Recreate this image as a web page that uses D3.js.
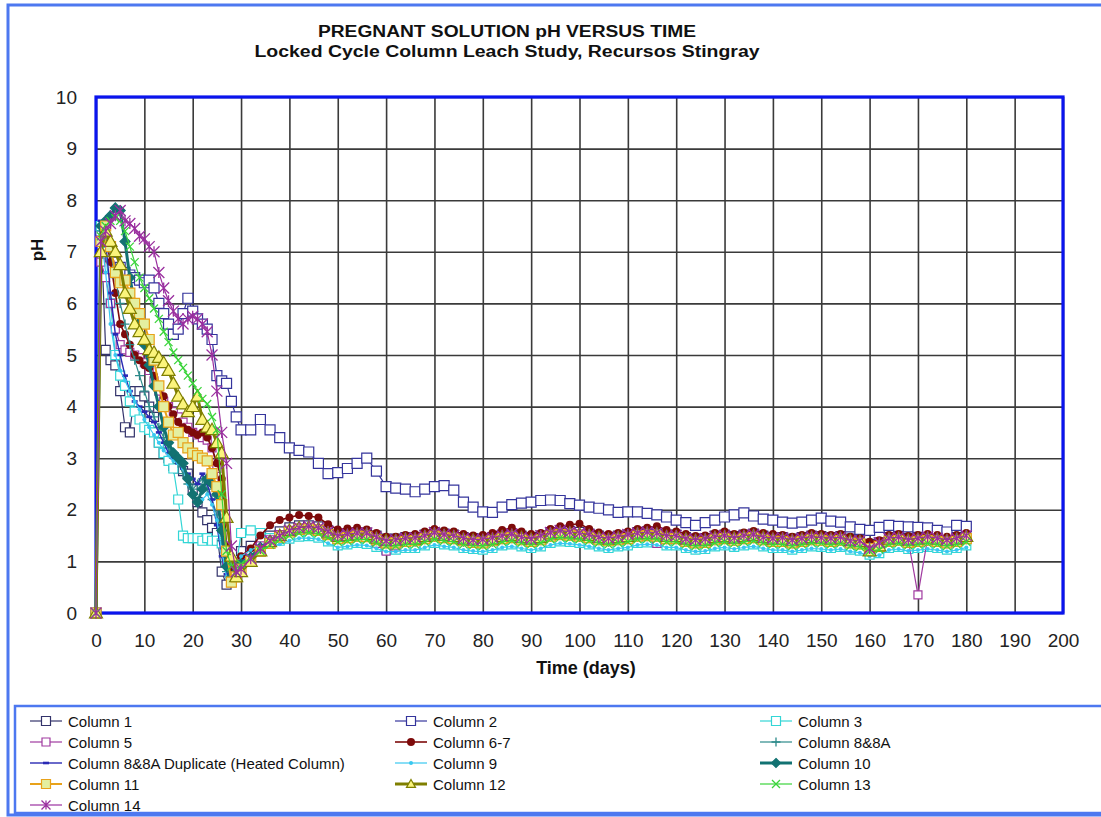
<!DOCTYPE html>
<html>
<head>
<meta charset="utf-8">
<script src="https://cdn.jsdelivr.net/npm/d3@7"></script>
<style>
  body { margin: 0; background: #fff; }
  svg { display: block; font-family: "Liberation Sans", Arial, sans-serif; }
</style>
</head>
<body>
<svg id="chart" width="1101" height="817"></svg>
<script>
// Sampling days (daily to day 30, then every second day)
const days = [
  0,1,2,3,4,5,6,7,8,9,10,11,12,13,14,15,16,17,18,19,20,21,22,23,24,25,26,27,28,29,30,
  32,34,36,38,40,42,44,46,48,50,52,54,56,58,60,
  62,64,66,68,70,72,74,76,78,80,82,84,86,88,90,
  92,94,96,98,100,102,104,106,108,110,112,114,116,118,120,
  122,124,126,128,130,132,134,136,138,140,142,144,146,148,150,
  152,154,156,158,160,162,164,166,168,170,172,174,176,178,180
];

// Pregnant solution pH per column
const column1 = [
  0,7.5,5.1,4.9,4.8,4.3,3.6,3.5,4.3,4.3, 4.2,4.0,3.8,3.3,3.1,3.0,2.85,2.8,2.75,2.7, 2.4,2.15,1.95,1.8,1.65,1.55,0.8,0.55,0.6,0.8, 1.2,
  1.3,1.4,1.5,1.58,1.66,1.7,1.7,1.68,1.6,1.52,1.54,1.57,1.56,1.5,1.44,
  1.44,1.47,1.47,1.52,1.57,1.54,1.52,1.47,1.45,1.44,1.47,1.52,1.54,1.5,1.47,
  1.5,1.57,1.6,1.59,1.57,1.54,1.5,1.47,1.5,1.52,1.57,1.58,1.57,1.52,1.52,
  1.47,1.44,1.45,1.5,1.52,1.49,1.52,1.54,1.5,1.47,1.47,1.44,1.47,1.5,1.49,
  1.47,1.49,1.44,1.42,1.34,1.37,1.47,1.49,1.45,1.47,1.49,1.47,1.44,1.47,1.52
];
const column2 = [
  0,7.4,7.1,6.9,6.8,6.7,6.6,6.55,6.5,6.45, 6.4,6.45,6.3,6.0,5.8,5.6,5.4,5.5,5.8,6.1, 5.85,5.7,5.6,5.5,5.3,4.6,4.5,4.45,4.1,3.8, 3.55,
  3.55,3.75,3.55,3.4,3.2,3.15,3.12,2.9,2.7,2.72,2.8,2.9,3.0,2.75,2.45,
  2.42,2.4,2.35,2.4,2.45,2.47,2.38,2.15,2.05,1.96,1.95,2.05,2.1,2.13,2.15,
  2.18,2.19,2.18,2.12,2.09,2.05,2.03,2.0,1.95,1.96,1.96,1.93,1.9,1.86,1.8,
  1.75,1.7,1.75,1.8,1.86,1.9,1.94,1.88,1.82,1.8,1.76,1.74,1.76,1.8,1.84,
  1.78,1.76,1.67,1.62,1.6,1.66,1.7,1.68,1.67,1.66,1.65,1.6,1.57,1.7,1.68
];
const column3 = [
  0,7.5,7.0,6.0,5.0,4.6,4.4,4.1,3.9,3.75, 3.6,3.55,3.5,3.3,3.1,2.95,2.8,2.2,1.5,1.45, 1.45,1.45,1.4,1.45,1.4,1.4,1.35,1.0,0.75,0.9, 1.55,
  1.6,1.55,1.45,1.4,1.44,1.48,1.49,1.46,1.39,1.31,1.33,1.36,1.34,1.28,1.23,
  1.23,1.26,1.26,1.31,1.36,1.33,1.31,1.26,1.24,1.23,1.26,1.31,1.33,1.29,1.26,
  1.29,1.36,1.39,1.38,1.36,1.33,1.29,1.26,1.29,1.31,1.36,1.37,1.36,1.31,1.31,
  1.26,1.23,1.24,1.29,1.31,1.28,1.31,1.33,1.29,1.26,1.26,1.23,1.26,1.29,1.28,
  1.26,1.28,1.23,1.21,1.13,1.16,1.26,1.28,1.24,1.26,1.28,1.26,1.23,1.26,1.31
];
const column5 = [
  0,6.8,6.5,6.0,5.5,5.2,5.1,5.05,5.0,4.95, 4.85,4.7,4.5,4.3,4.1,4.0,3.9,3.8,3.7,3.6, 3.5,3.45,3.4,3.35,3.2,2.8,1.9,1.0,0.75,0.85, 1.0,
  1.15,1.3,1.42,1.52,1.6,1.65,1.65,1.62,1.55,1.47,1.5,1.52,1.5,1.35,1.2,
  1.3,1.4,1.42,1.47,1.52,1.5,1.48,1.42,1.4,1.4,1.43,1.48,1.5,1.45,1.43,
  1.46,1.53,1.56,1.55,1.53,1.5,1.46,1.43,1.46,1.48,1.52,1.53,1.35,1.48,1.48,
  1.43,1.4,1.41,1.46,1.48,1.45,1.48,1.5,1.46,1.43,1.43,1.4,1.43,1.46,1.45,
  1.43,1.45,1.4,1.38,1.3,1.33,1.43,1.45,1.41,0.35,1.45,1.43,1.4,1.43,1.48
];
const column6to7 = [
  0,7.0,7.3,6.8,6.2,5.6,5.4,5.2,5.0,4.9, 4.8,4.75,4.6,4.4,4.2,4.0,3.85,3.7,3.6,3.55, 3.5,3.45,3.5,3.4,3.2,2.9,2.6,1.3,0.8,0.9, 1.1,
  1.25,1.5,1.7,1.8,1.85,1.9,1.88,1.85,1.72,1.62,1.64,1.65,1.62,1.55,1.48,
  1.48,1.51,1.53,1.58,1.63,1.6,1.58,1.53,1.5,1.51,1.55,1.61,1.65,1.58,1.53,
  1.55,1.63,1.68,1.71,1.73,1.63,1.56,1.53,1.55,1.58,1.63,1.65,1.68,1.61,1.58,
  1.53,1.49,1.5,1.55,1.58,1.53,1.56,1.59,1.55,1.53,1.51,1.48,1.51,1.55,1.53,
  1.51,1.53,1.48,1.45,1.38,1.41,1.51,1.53,1.49,1.51,1.53,1.51,1.48,1.51,1.55
];
const column8 = [
  0,7.4,7.3,7.0,6.5,6.0,5.6,5.2,4.9,4.6, 4.3,4.0,3.8,3.6,3.4,3.2,3.0,2.9,2.7,2.5, 2.4,2.5,2.6,2.4,2.2,1.9,1.4,0.8,0.6,0.75, 1.0,
  1.12,1.27,1.38,1.47,1.56,1.6,1.61,1.59,1.5,1.42,1.44,1.47,1.47,1.4,1.34,
  1.34,1.37,1.37,1.42,1.47,1.44,1.42,1.37,1.35,1.34,1.37,1.42,1.44,1.4,1.37,
  1.4,1.47,1.5,1.49,1.47,1.44,1.4,1.37,1.4,1.42,1.47,1.48,1.47,1.42,1.42,
  1.37,1.34,1.35,1.4,1.42,1.39,1.42,1.44,1.4,1.37,1.37,1.34,1.37,1.4,1.39,
  1.37,1.39,1.34,1.32,1.24,1.27,1.37,1.39,1.35,1.37,1.39,1.37,1.34,1.37,1.42
];
const column8Duplicate = [
  0,7.6,7.2,6.2,5.4,5.0,4.6,4.3,4.1,4.0, 3.9,3.8,3.7,3.5,3.3,3.1,3.0,2.9,2.8,2.7, 2.6,2.5,2.7,2.5,2.2,1.7,1.1,0.75,0.6,0.75, 1.0,
  1.1,1.25,1.36,1.45,1.54,1.58,1.6,1.58,1.48,1.4,1.42,1.45,1.44,1.37,1.3,
  1.32,1.35,1.35,1.4,1.45,1.42,1.4,1.35,1.33,1.32,1.35,1.4,1.42,1.38,1.35,
  1.38,1.45,1.48,1.47,1.45,1.42,1.38,1.35,1.38,1.4,1.45,1.46,1.45,1.4,1.4,
  1.35,1.32,1.33,1.38,1.4,1.37,1.4,1.42,1.38,1.35,1.35,1.32,1.35,1.38,1.37,
  1.35,1.37,1.32,1.3,1.22,1.25,1.35,1.37,1.33,1.35,1.37,1.35,1.32,1.35,1.4
];
const column9 = [
  0,7.3,6.6,5.6,5.0,4.7,4.5,4.3,4.1,3.95, 3.75,3.6,3.45,3.3,3.15,3.05,2.95,2.9,2.8,2.5, 2.3,2.1,2.2,2.3,2.1,1.8,1.2,0.7,0.6,0.8, 1.1,
  1.22,1.3,1.3,1.33,1.4,1.45,1.45,1.43,1.35,1.27,1.29,1.32,1.31,1.25,1.19,
  1.19,1.22,1.22,1.27,1.32,1.29,1.27,1.22,1.2,1.19,1.22,1.27,1.29,1.25,1.22,
  1.25,1.32,1.35,1.34,1.32,1.29,1.25,1.22,1.25,1.27,1.32,1.33,1.32,1.27,1.27,
  1.22,1.19,1.2,1.25,1.27,1.24,1.27,1.29,1.25,1.22,1.22,1.19,1.22,1.25,1.24,
  1.22,1.24,1.19,1.17,1.1,1.12,1.22,1.24,1.2,1.22,1.24,1.22,1.19,1.22,1.27
];
const column10 = [
  0,7.5,7.6,7.7,7.85,7.8,7.2,6.5,6.0,5.6, 5.2,4.8,4.4,4.0,3.6,3.3,3.1,3.0,2.9,2.6, 2.3,2.15,2.4,2.6,2.5,2.3,1.6,0.9,0.7,0.8, 0.95,
  1.08,1.27,1.4,1.5,1.6,1.64,1.64,1.62,1.53,1.45,1.47,1.5,1.5,1.43,1.37,
  1.37,1.4,1.41,1.45,1.5,1.47,1.45,1.41,1.38,1.37,1.41,1.45,1.47,1.43,1.4,
  1.43,1.5,1.53,1.52,1.5,1.47,1.43,1.41,1.43,1.45,1.5,1.51,1.5,1.45,1.45,
  1.4,1.37,1.38,1.43,1.45,1.42,1.45,1.47,1.43,1.4,1.4,1.37,1.4,1.43,1.42,
  1.4,1.42,1.37,1.35,1.27,1.3,1.4,1.42,1.38,1.4,1.42,1.4,1.37,1.4,1.45
];
const column11 = [
  0,7.2,7.5,7.1,6.6,6.4,6.45,6.2,6.0,5.8, 5.6,5.3,4.9,4.4,4.0,3.7,3.45,3.5,3.3,3.2, 3.1,3.05,3.0,2.95,2.7,2.45,2.1,1.2,0.6,0.7, 0.85,
  1.0,1.2,1.35,1.47,1.57,1.62,1.63,1.6,1.52,1.44,1.46,1.49,1.48,1.42,1.36,
  1.36,1.39,1.4,1.44,1.49,1.46,1.44,1.4,1.37,1.36,1.4,1.44,1.46,1.42,1.39,
  1.42,1.49,1.52,1.51,1.49,1.46,1.42,1.4,1.42,1.44,1.49,1.5,1.49,1.44,1.44,
  1.39,1.36,1.37,1.42,1.44,1.41,1.44,1.46,1.42,1.39,1.39,1.36,1.39,1.42,1.41,
  1.39,1.41,1.36,1.34,1.25,1.29,1.39,1.41,1.37,1.39,1.41,1.39,1.36,1.39,1.44
];
const column12 = [
  0,7.0,7.4,7.2,7.0,6.75,6.2,5.9,5.6,5.45, 5.3,5.1,5.05,4.95,4.85,4.7,4.45,4.2,4.05,3.9, 4.0,4.2,3.75,3.6,3.55,3.3,3.1,1.85,1.1,0.7, 0.8,
  1.0,1.2,1.38,1.5,1.6,1.65,1.66,1.63,1.55,1.48,1.5,1.52,1.52,1.45,1.4,
  1.4,1.43,1.43,1.48,1.53,1.5,1.48,1.43,1.41,1.4,1.43,1.48,1.5,1.46,1.43,
  1.46,1.53,1.56,1.55,1.53,1.5,1.46,1.43,1.46,1.48,1.53,1.54,1.53,1.48,1.48,
  1.43,1.4,1.41,1.46,1.48,1.45,1.48,1.5,1.46,1.43,1.43,1.4,1.43,1.46,1.45,
  1.43,1.45,1.4,1.38,1.2,1.3,1.43,1.45,1.41,1.43,1.45,1.43,1.4,1.43,1.48
];
const column13 = [
  0,7.3,7.5,7.6,7.65,7.6,7.4,7.1,6.8,6.5, 6.3,6.1,5.9,5.7,5.45,5.25,5.05,4.9,4.75,4.6, 4.45,4.3,4.15,4.05,3.8,3.55,2.3,1.2,0.9,0.8, 0.95,
  1.05,1.2,1.32,1.42,1.5,1.55,1.56,1.54,1.46,1.38,1.4,1.43,1.42,1.36,1.3,
  1.3,1.33,1.33,1.38,1.43,1.4,1.38,1.33,1.31,1.3,1.33,1.38,1.4,1.36,1.33,
  1.36,1.43,1.46,1.45,1.43,1.4,1.36,1.33,1.36,1.38,1.43,1.44,1.43,1.38,1.38,
  1.33,1.3,1.31,1.36,1.38,1.35,1.38,1.4,1.36,1.33,1.33,1.3,1.33,1.36,1.35,
  1.33,1.35,1.3,1.28,1.2,1.23,1.33,1.35,1.31,1.33,1.35,1.33,1.3,1.33,1.38
];
const column14 = [
  0,7.2,7.4,7.55,7.7,7.8,7.6,7.55,7.45,7.3, 7.25,7.1,7.0,6.6,6.3,6.05,5.85,5.7,5.6,5.7, 5.75,5.7,5.6,5.45,5.0,4.3,3.5,2.9,1.3,0.8, 0.85,
  1.05,1.25,1.4,1.5,1.6,1.65,1.68,1.65,1.58,1.5,1.53,1.55,1.55,1.47,1.4,
  1.42,1.45,1.46,1.5,1.56,1.52,1.5,1.45,1.42,1.43,1.46,1.5,1.53,1.47,1.44,
  1.5,1.56,1.6,1.57,1.55,1.52,1.47,1.45,1.48,1.52,1.55,1.57,1.55,1.5,1.5,
  1.44,1.42,1.44,1.48,1.5,1.46,1.5,1.52,1.47,1.45,1.46,1.42,1.45,1.48,1.46,
  1.45,1.47,1.4,1.4,1.25,1.36,1.45,1.47,1.42,1.45,1.48,1.45,1.42,1.45,1.5
];

const seriesNames = [
  "Column 1", "Column 2", "Column 3", "Column 5", "Column 6-7", "Column 8&8A",
  "Column 8&8A Duplicate (Heated Column)", "Column 9", "Column 10", "Column 11",
  "Column 12", "Column 13", "Column 14"
];
const seriesValues = [
  column1, column2, column3, column5, column6to7, column8,
  column8Duplicate, column9, column10, column11, column12, column13, column14
];

const xTicks = [0,10,20,30,40,50,60,70,80,90,100,110,120,130,140,150,160,170,180,190,200];
const yTicks = [0,1,2,3,4,5,6,7,8,9,10];

const titleLines = ["PREGNANT SOLUTION pH VERSUS TIME", "Locked Cycle Column Leach Study,  Recursos Stingray"];
const xTitle = "Time (days)";
const yTitle = "pH";

// ---- drawing styles, one per series ----
const styles = [
  { color: "#33336b", width: 1.2, marker: "square",   size: 9,  fill: "#ffffff" },
  { color: "#34349c", width: 1.2, marker: "square",   size: 10, fill: "#ffffff" },
  { color: "#33d6d6", width: 1.2, marker: "square",   size: 9,  fill: "#ffffff" },
  { color: "#a03aa0", width: 1.2, marker: "square",   size: 8,  fill: "#ffffff" },
  { color: "#7d0a0a", width: 1.6, marker: "circle",   size: 8,  fill: "#7d0a0a" },
  { color: "#2d8a8a", width: 1.2, marker: "plus",     size: 9,  fill: "none" },
  { color: "#2a2ab4", width: 1.4, marker: "dash",     size: 6,  fill: "#2a2ab4" },
  { color: "#38c8f0", width: 1.2, marker: "dot",      size: 4,  fill: "#38c8f0" },
  { color: "#127272", width: 3.0, marker: "diamond",  size: 10, fill: "#127272" },
  { color: "#e8a21a", width: 2.0, marker: "square",   size: 10, fill: "#e4efa0" },
  { color: "#7f7f00", width: 3.0, marker: "triangle", size: 13, fill: "#fbf47c" },
  { color: "#3ad43a", width: 1.2, marker: "x",        size: 8,  fill: "none" },
  { color: "#9a2f9f", width: 1.2, marker: "asterisk", size: 11, fill: "none" }
];

function markerPath(type, s) {
  const h = s / 2;
  switch (type) {
    case "square":   return `M${-h},${-h}h${s}v${s}h${-s}Z`;
    case "diamond":  return `M0,${-h}L${h},0L0,${h}L${-h},0Z`;
    case "triangle": return `M0,${-h}L${h},${h * 0.75}L${-h},${h * 0.75}Z`;
    case "plus":     return `M${-h},0H${h}M0,${-h}V${h}`;
    case "x":        return `M${-h},${-h}L${h},${h}M${-h},${h}L${h},${-h}`;
    case "asterisk": return `M${-h},${-h}L${h},${h}M${-h},${h}L${h},${-h}M0,${-h}V${h}`;
    case "dash":     return `M${-h},-1.3h${s}v2.6h${-s}Z`;
    case "circle":
    case "dot":      return d3.symbol(d3.symbolCircle, Math.PI * h * h)();
  }
  return "";
}

function drawMarker(sel, st) {
  const stroked = ["plus", "x", "asterisk"].includes(st.marker);
  const filledOnly = ["circle", "dot", "dash"].includes(st.marker);
  sel.append("path")
    .attr("d", markerPath(st.marker, st.size))
    .attr("fill", stroked ? "none" : st.fill)
    .attr("stroke", st.color)
    .attr("stroke-width", stroked ? 1.3 : (filledOnly ? 0 : 1.2));
}

const svg = d3.select("#chart");
const W = 1101, H = 817;

svg.append("rect").attr("width", W).attr("height", H).attr("fill", "#ffffff");

// outer chart frame
svg.append("rect")
  .attr("x", 8).attr("y", 5).attr("width", W + 20).attr("height", 810)
  .attr("fill", "none").attr("stroke", "#4d78f0").attr("stroke-width", 3);

const plot = { left: 96, right: 1063, top: 97, bottom: 613 };
const x = d3.scaleLinear().domain([0, 200]).range([plot.left, plot.right]);
const y = d3.scaleLinear().domain([0, 10]).range([plot.bottom, plot.top]);

// title
svg.append("text").attr("x", 507).attr("y", 37).attr("text-anchor", "middle")
  .attr("font-size", 16).attr("font-weight", "bold").attr("fill", "#111")
  .attr("textLength", 378).attr("lengthAdjust", "spacingAndGlyphs")
  .text(titleLines[0]);
svg.append("text").attr("x", 507).attr("y", 57).attr("text-anchor", "middle")
  .attr("font-size", 16).attr("font-weight", "bold").attr("fill", "#111")
  .attr("textLength", 505).attr("lengthAdjust", "spacingAndGlyphs")
  .text(titleLines[1]);

// gridlines
const gridX = svg.append("g").attr("transform", `translate(0,${plot.bottom})`)
  .call(d3.axisBottom(x).tickValues(xTicks).tickSize(-(plot.bottom - plot.top)).tickFormat(""));
const gridY = svg.append("g").attr("transform", `translate(${plot.left},0)`)
  .call(d3.axisLeft(y).tickValues(yTicks).tickSize(-(plot.right - plot.left)).tickFormat(""));
[gridX, gridY].forEach(g => {
  g.select(".domain").remove();
  g.selectAll(".tick line").attr("stroke", "#3a3a3a").attr("stroke-width", 1.6);
});

// plot area border
svg.append("rect")
  .attr("x", plot.left).attr("y", plot.top)
  .attr("width", plot.right - plot.left).attr("height", plot.bottom - plot.top)
  .attr("fill", "none").attr("stroke", "#0a14ee").attr("stroke-width", 3.2);

// tick labels
const axX = svg.append("g").attr("transform", `translate(0,${plot.bottom})`)
  .call(d3.axisBottom(x).tickValues(xTicks).tickSize(0).tickPadding(21));
const axY = svg.append("g").attr("transform", `translate(${plot.left},0)`)
  .call(d3.axisLeft(y).tickValues(yTicks).tickSize(0).tickPadding(19));
[axX, axY].forEach(g => {
  g.select(".domain").remove();
  g.selectAll("text").attr("font-size", 19).attr("fill", "#222")
    .attr("font-family", "'Liberation Sans', Arial, sans-serif");
});

svg.append("text").attr("x", 586).attr("y", 674).attr("text-anchor", "middle")
  .attr("font-size", 18).attr("font-weight", "bold").attr("fill", "#111").text(xTitle);
svg.append("text").attr("transform", "translate(43,250) rotate(-90)").attr("text-anchor", "middle")
  .attr("font-size", 17).attr("font-weight", "bold").attr("fill", "#111").text(yTitle);

// series
const line = d3.line().x(d => x(d[0])).y(d => y(d[1]));
const seriesLayer = svg.append("g");
seriesValues.forEach((vals, i) => {
  const st = styles[i];
  const pts = days.map((d, k) => [d, vals[k]]);
  const g = seriesLayer.append("g");
  g.append("path").datum(pts).attr("d", line)
    .attr("fill", "none").attr("stroke", st.color).attr("stroke-width", st.width)
    .attr("stroke-linejoin", "round");
  g.selectAll("g.m").data(pts).enter().append("g").attr("class", "m")
    .attr("transform", d => `translate(${x(d[0])},${y(d[1])})`)
    .each(function () { drawMarker(d3.select(this), st); });
});

// legend
svg.append("rect")
  .attr("x", 15).attr("y", 706).attr("width", W).attr("height", 107)
  .attr("fill", "#ffffff").attr("stroke", "#4d78f0").attr("stroke-width", 2.5);
const legCols = [30, 395, 760];
const legRows = [721, 742, 763, 784, 805];
seriesNames.forEach((name, i) => {
  const st = styles[i];
  const lx = legCols[i % 3], ly = legRows[Math.floor(i / 3)];
  const g = svg.append("g");
  g.append("line").attr("x1", lx).attr("x2", lx + 32).attr("y1", ly).attr("y2", ly)
    .attr("stroke", st.color).attr("stroke-width", st.width);
  const m = g.append("g").attr("transform", `translate(${lx + 16},${ly})`);
  drawMarker(m, Object.assign({}, st, { size: Math.min(st.size, 9) }));
  g.append("text").attr("x", lx + 38).attr("y", ly + 5.5)
    .attr("font-size", 15).attr("fill", "#111").text(name);
});
</script>
</body>
</html>
